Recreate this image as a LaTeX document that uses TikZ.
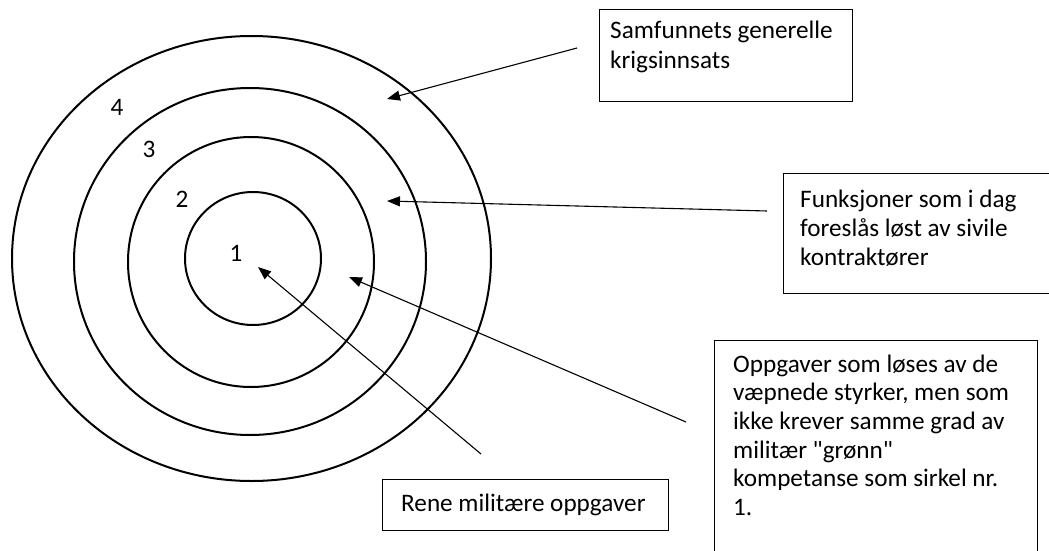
\documentclass[tikz,border=0pt]{standalone}
\usepackage{fontspec}
\newfontfamily\calfont{Carlito}
\usetikzlibrary{arrows.meta}
\begin{document}
\begin{tikzpicture}[x=1pt,y=-1pt,
  ring/.style={draw=black, line width=2pt},
  conn/.style={draw=black, line width=1.1pt, -{Triangle[length=13pt,width=10pt]}},
  frame/.style={draw=black, line width=1.2pt, inner sep=0pt, anchor=north west},
  txt/.style={inner sep=0pt, anchor=base west, align=flush left, text width=320pt, font=\calfont\fontsize{25.2}{29}\selectfont},
  num/.style={inner sep=0pt, anchor=base, font=\calfont\fontsize{25.2}{29}\selectfont}]
\fill[white] (0,0) rectangle (1049,551);
\clip (0,0) rectangle (1049,551);
% rings
\draw[ring] (251.5,258.5) ellipse [x radius=239.5pt, y radius=222.5pt];
\draw[ring] (250,261.5) ellipse [x radius=176pt, y radius=173.5pt];
\draw[ring] (251,262) ellipse [x radius=123pt, y radius=125pt];
\draw[ring] (253,258.5) ellipse [x radius=68pt, y radius=66.5pt];
% ring numbers
\node[num] (n4) at (117,115) {4};
\node[num] (n3) at (149,157) {3};
\node[num] (n2) at (182,207) {2};
\node[num] (n1) at (236,261) {1};
% boxes
\node[frame, minimum width=253pt, minimum height=92pt] (sbox) at (599,9) {};
\node[frame, minimum width=280pt, minimum height=120pt] (fbox) at (783,173) {};
\node[frame, minimum width=323pt, minimum height=230pt] (obox) at (714,340) {};
\node[frame, minimum width=286pt, minimum height=51pt] (rbox) at (382,479) {};
% texts
\node[txt] (stext) at (610,39) {Samfunnets generelle\\krigsinnsats};
\node[txt] (ftext) at (800,207) {Funksjoner som i dag\\foreslås løst av sivile\\kontraktører};
\node[txt, font=\calfont\fontsize{25.2}{28.7}\selectfont] (otext) at (733,372) {Oppgaver som løses av de\\væpnede styrker, men som\\ikke krever samme grad av\\militær "grønn"\\kompetanse som sirkel nr.\\1.};
\node[txt] (rtext) at (401,511) {Rene militære oppgaver};
% connectors
\coordinate (s4) at (577,48);  \coordinate (t4) at (387,99);
\coordinate (s3) at (767,211); \coordinate (t3) at (387,201);
\coordinate (s2) at (686,422); \coordinate (t2) at (349,277);
\coordinate (s1) at (481,454); \coordinate (t1) at (258,267);
\draw[conn] (s4) -- (t4);
\draw[conn] (s3) -- (t3);
\draw[conn] (s2) -- (t2);
\draw[conn] (s1) -- (t1);
\end{tikzpicture}
\end{document}
